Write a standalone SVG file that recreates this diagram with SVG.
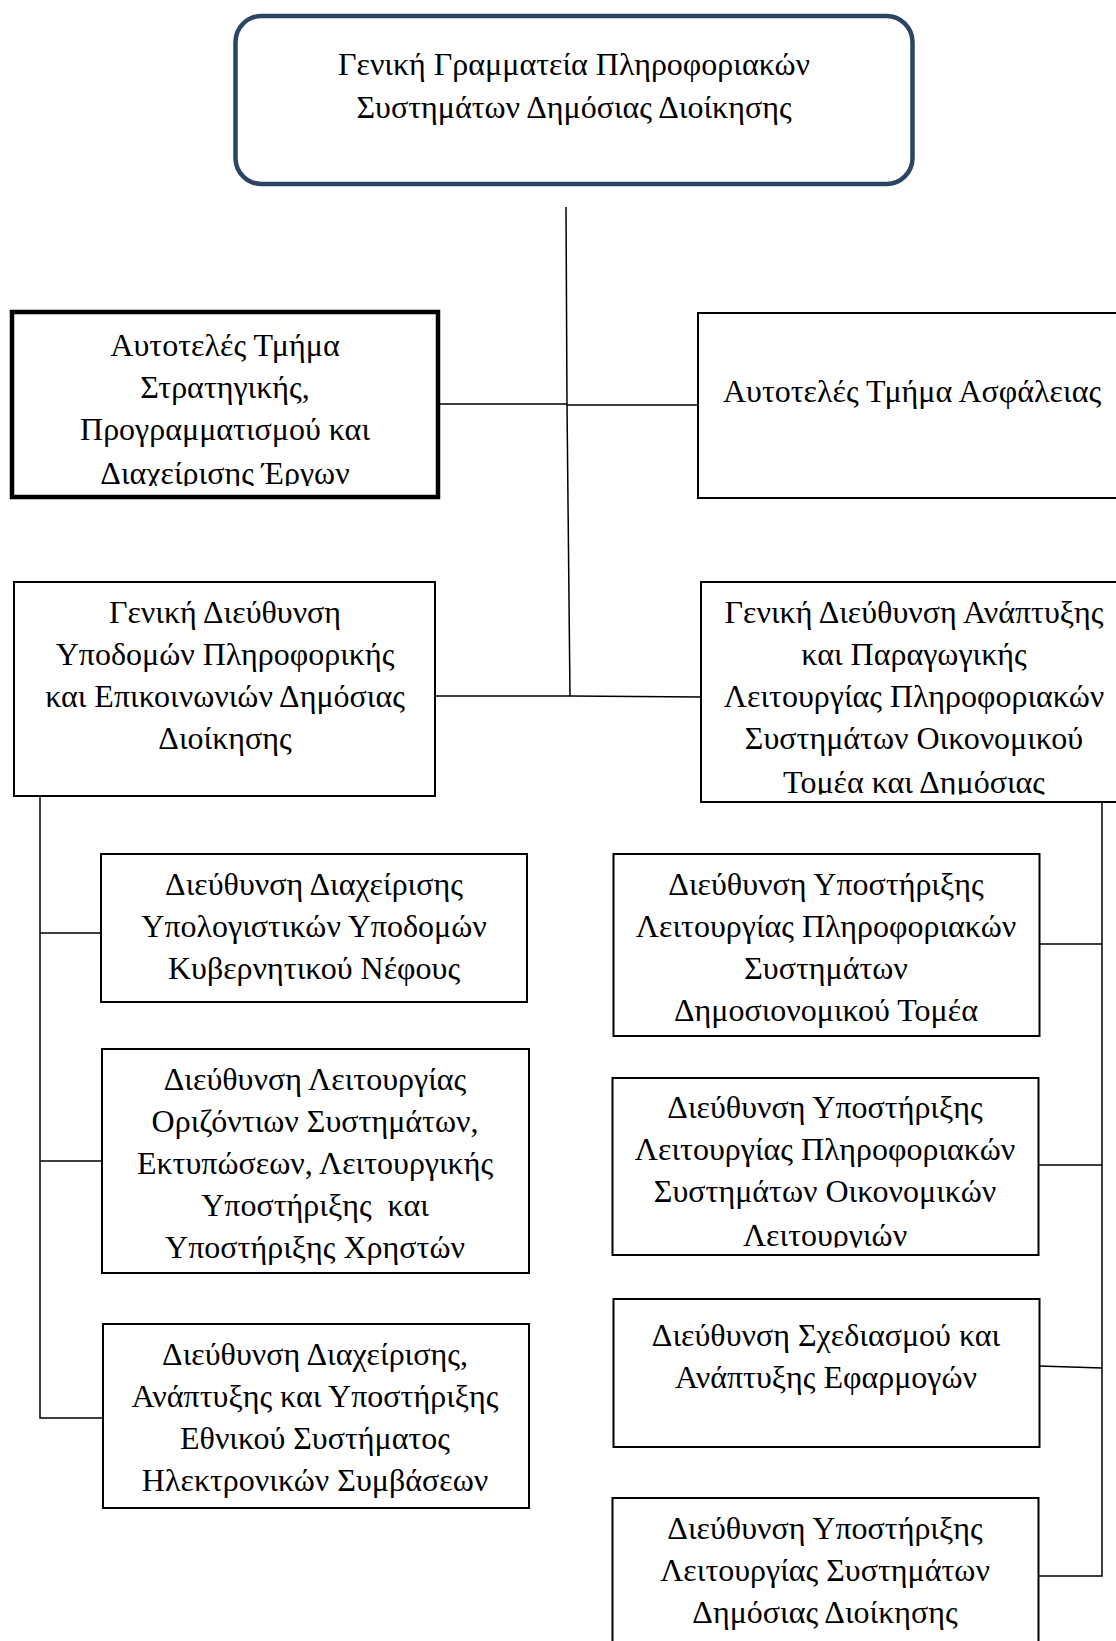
<svg xmlns="http://www.w3.org/2000/svg" width="1116" height="1641" viewBox="0 0 1116 1641">
<style>
.box{fill:#fff;stroke:#000;stroke-width:2}
.thick{stroke-width:4.5}
.top{fill:#fff;stroke:#2C4566;stroke-width:4.5}
.t{font-family:"Liberation Serif","Times New Roman",serif;font-size:32px;fill:#000;text-anchor:middle}
.c{fill:none;stroke:#000;stroke-width:1.5}
</style>
<defs>
<clipPath id="clipL1"><rect x="12" y="312" width="426" height="174"/></clipPath>
<clipPath id="clipR2"><rect x="701" y="582" width="420" height="212.5"/></clipPath>
<clipPath id="clipR4"><rect x="612" y="1078" width="427" height="169.5"/></clipPath>
</defs>
<rect width="1116" height="1641" fill="#fff"/>
<g id="connectors">
<path class="c" d="M566,207 L567,404 L570,696"/>
<path class="c" d="M438,404 L567,404 M567,405 L698,405"/>
<path class="c" d="M435,696 L570,696 L701,697"/>
<path class="c" d="M40,796 L40,1418 L103,1418 M40,933 L101,933 M40,1161 L102,1161"/>
<path class="c" d="M1102,802 L1102,1576 L1038,1576 M1039,944 L1102,944 M1038,1165 L1102,1165 M1039,1366 L1102,1368"/>
</g>
<g id="n-top">
<rect class="top" x="235.5" y="16" width="677" height="168" rx="26"/>
<text class="t" x="574" y="75">Γενική Γραμματεία Πληροφοριακών</text>
<text class="t" x="574" y="118">Συστημάτων Δημόσιας Διοίκησης</text>
</g>
<g id="n-strat">
<rect class="box thick" x="12" y="312" width="426" height="185"/>
<g clip-path="url(#clipL1)">
<text class="t" x="225" y="356">Αυτοτελές Τμήμα</text>
<text class="t" x="225" y="398">Στρατηγικής,</text>
<text class="t" x="225" y="440">Προγραμματισμού και</text>
<text class="t" x="225" y="484">Διαχείρισης Έργων</text>
</g>
</g>
<g id="n-asfaleia">
<rect class="box" x="698" y="313" width="430" height="185"/>
<text class="t" x="912" y="402">Αυτοτελές Τμήμα Ασφάλειας</text>
</g>
<g id="n-gd-ypodomon">
<rect class="box" x="14" y="582" width="421" height="214"/>
<text class="t" x="225" y="623">Γενική Διεύθυνση</text>
<text class="t" x="225" y="665">Υποδομών Πληροφορικής</text>
<text class="t" x="225" y="707">και Επικοινωνιών Δημόσιας</text>
<text class="t" x="225" y="749">Διοίκησης</text>
</g>
<g id="n-gd-anaptyxis">
<rect class="box" x="701" y="582" width="430" height="220"/>
<g clip-path="url(#clipR2)">
<text class="t" x="914" y="623">Γενική Διεύθυνση Ανάπτυξης</text>
<text class="t" x="914" y="665">και Παραγωγικής</text>
<text class="t" x="914" y="707">Λειτουργίας Πληροφοριακών</text>
<text class="t" x="914" y="749">Συστημάτων Οικονομικού</text>
<text class="t" x="914" y="793">Τομέα και Δημόσιας</text>
</g>
</g>
<g id="n-cloud">
<rect class="box" x="101" y="854" width="426" height="148"/>
<text class="t" x="314" y="895">Διεύθυνση Διαχείρισης</text>
<text class="t" x="314" y="937">Υπολογιστικών Υποδομών</text>
<text class="t" x="314" y="979">Κυβερνητικού Νέφους</text>
</g>
<g id="n-horizontal">
<rect class="box" x="102" y="1049" width="427" height="224"/>
<text class="t" x="315" y="1090">Διεύθυνση Λειτουργίας</text>
<text class="t" x="315" y="1132">Οριζόντιων Συστημάτων,</text>
<text class="t" x="315" y="1174">Εκτυπώσεων, Λειτουργικής</text>
<text class="t" x="315" y="1216" xml:space="preserve">Υποστήριξης  και</text>
<text class="t" x="315" y="1258">Υποστήριξης Χρηστών</text>
</g>
<g id="n-esidis">
<rect class="box" x="103" y="1324" width="426" height="184"/>
<text class="t" x="315" y="1365">Διεύθυνση Διαχείρισης,</text>
<text class="t" x="315" y="1407">Ανάπτυξης και Υποστήριξης</text>
<text class="t" x="315" y="1449">Εθνικού Συστήματος</text>
<text class="t" x="315" y="1491">Ηλεκτρονικών Συμβάσεων</text>
</g>
<g id="n-dimosionomikou">
<rect class="box" x="613.5" y="854" width="426" height="182"/>
<text class="t" x="826" y="895">Διεύθυνση Υποστήριξης</text>
<text class="t" x="826" y="937">Λειτουργίας Πληροφοριακών</text>
<text class="t" x="826" y="979">Συστημάτων</text>
<text class="t" x="826" y="1021">Δημοσιονομικού Τομέα</text>
</g>
<g id="n-oikonomikon">
<rect class="box" x="612.5" y="1078" width="426" height="177"/>
<g clip-path="url(#clipR4)">
<text class="t" x="825" y="1118">Διεύθυνση Υποστήριξης</text>
<text class="t" x="825" y="1160">Λειτουργίας Πληροφοριακών</text>
<text class="t" x="825" y="1202">Συστημάτων Οικονομικών</text>
<text class="t" x="825" y="1246">Λειτουργιών</text>
</g>
</g>
<g id="n-sxediasmou">
<rect class="box" x="613.5" y="1299" width="426" height="148"/>
<text class="t" x="826" y="1346">Διεύθυνση Σχεδιασμού και</text>
<text class="t" x="826" y="1388">Ανάπτυξης Εφαρμογών</text>
</g>
<g id="n-dimosias">
<rect class="box" x="612.5" y="1498" width="426" height="160"/>
<text class="t" x="825" y="1539">Διεύθυνση Υποστήριξης</text>
<text class="t" x="825" y="1581">Λειτουργίας Συστημάτων</text>
<text class="t" x="825" y="1623">Δημόσιας Διοίκησης</text>
</g>
</svg>
